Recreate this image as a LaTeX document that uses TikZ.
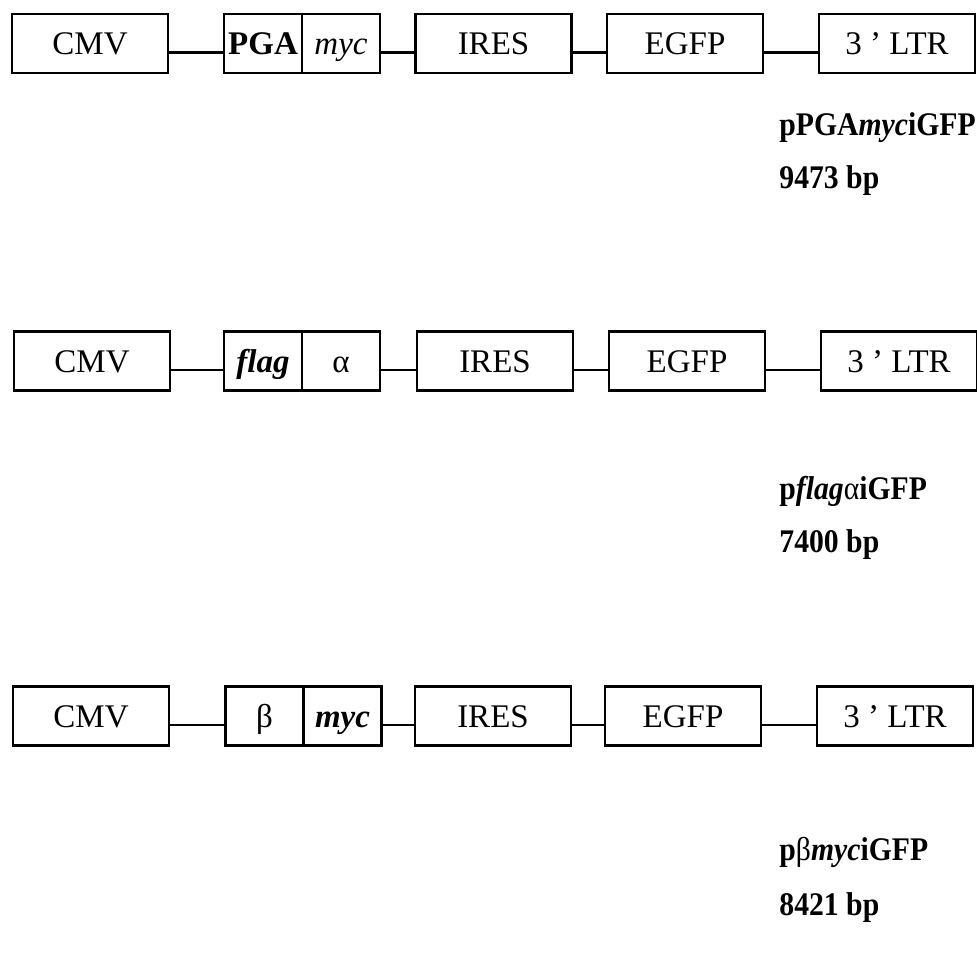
\documentclass[tikz,border=0pt]{standalone}
\usepackage{fontspec}
\setmainfont{Liberation Serif}
\newfontfamily\tagfont{Liberation Serif}[FakeStretch=0.9]
\usetikzlibrary{positioning,calc}
\tikzset{
  partbox/.style={
    draw,
    line width=1.1pt,
    minimum width=78pt,
    minimum height=29.5pt,
    inner sep=0pt,
    outer sep=0pt,
    text height=11pt,
    text depth=0pt,
    font=\fontsize{16.5}{18}\selectfont
  },
  halfbox/.style={
    partbox,
    minimum width=39pt
  },
  linker/.style={
    line width=1.1pt
  },
  plasmid/.style={
    anchor=west,
    inner sep=0pt,
    font=\tagfont\fontsize{16.5}{18}\selectfont\bfseries
  }
}

\begin{document}
\begin{tikzpicture}[x=0.5pt,y=-0.5pt]
  \useasboundingbox (0,0) rectangle (977,952);

  % pPGAmyciGFP
  \node[partbox] (cmvA) at (90,43.5) {CMV};
  \node[halfbox] (pga) at (263,43.5) {\textbf{PGA}};
  \node[halfbox, right=0pt of pga] (mycA) {\textit{myc}};
  \node[partbox] (iresA) at (493.5,43.5) {IRES};
  \node[partbox] (egfpA) at (685,43.5) {EGFP};
  \node[partbox] (ltrA) at (897,43.5) {3 ' LTR};
  \draw[linker] ([yshift=-4.5pt]cmvA.east) -- ([yshift=-4.5pt]pga.west);
  \draw[linker] ([yshift=-4.5pt]mycA.east) -- ([yshift=-4.5pt]iresA.west);
  \draw[linker] ([yshift=-4.5pt]iresA.east) -- ([yshift=-4.5pt]egfpA.west);
  \draw[linker] ([yshift=-4.5pt]egfpA.east) -- ([yshift=-4.5pt]ltrA.west);
  \node[plasmid] (nameA) at (779,128) {pPGA\textit{myc}iGFP};
  \node[plasmid] (sizeA) at (779,181) {9473 bp};

  % pflagaiGFP
  \node[partbox] (cmvB) at (92,361) {CMV};
  \node[halfbox] (flag) at (263,361) {\textbf{\textit{flag}}};
  \node[halfbox, right=0pt of flag] (alpha) {α};
  \node[partbox] (iresB) at (495,361) {IRES};
  \node[partbox] (egfpB) at (687,361) {EGFP};
  \node[partbox] (ltrB) at (899,361) {3 ' LTR};
  \draw[linker] ([yshift=-4.5pt]cmvB.east) -- ([yshift=-4.5pt]flag.west);
  \draw[linker] ([yshift=-4.5pt]alpha.east) -- ([yshift=-4.5pt]iresB.west);
  \draw[linker] ([yshift=-4.5pt]iresB.east) -- ([yshift=-4.5pt]egfpB.west);
  \draw[linker] ([yshift=-4.5pt]egfpB.east) -- ([yshift=-4.5pt]ltrB.west);
  \node[plasmid] (nameB) at (779,491) {p\textit{flag}{\mdseries α}iGFP};
  \node[plasmid] (sizeB) at (779,545) {7400 bp};

  % pbmyciGFP
  \node[partbox] (cmvC) at (91,716) {CMV};
  \node[halfbox] (beta) at (264.5,716) {β};
  \node[halfbox, right=0pt of beta] (mycC) {\textbf{\textit{myc}}};
  \node[partbox] (iresC) at (493,716) {IRES};
  \node[partbox] (egfpC) at (683,716) {EGFP};
  \node[partbox] (ltrC) at (895,716) {3 ' LTR};
  \draw[linker] ([yshift=-4.5pt]cmvC.east) -- ([yshift=-4.5pt]beta.west);
  \draw[linker] ([yshift=-4.5pt]mycC.east) -- ([yshift=-4.5pt]iresC.west);
  \draw[linker] ([yshift=-4.5pt]iresC.east) -- ([yshift=-4.5pt]egfpC.west);
  \draw[linker] ([yshift=-4.5pt]egfpC.east) -- ([yshift=-4.5pt]ltrC.west);
  \node[plasmid] (nameC) at (779,852) {p{\mdseries β}\textit{myc}iGFP};
  \node[plasmid] (sizeC) at (779,908) {8421 bp};
\end{tikzpicture}
\end{document}
